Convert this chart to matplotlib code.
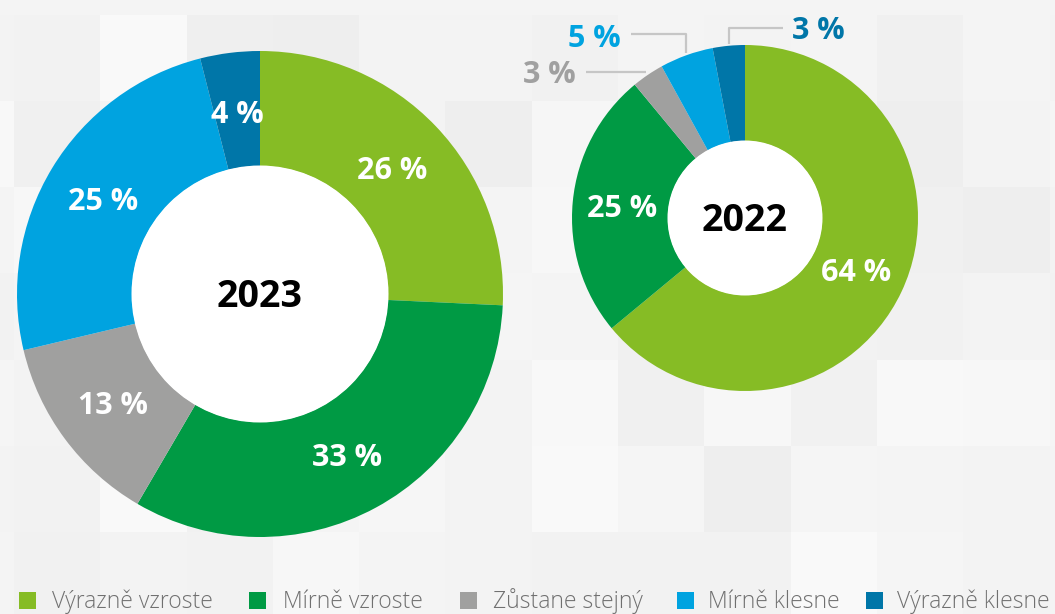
import matplotlib
matplotlib.use('Agg')
import matplotlib.pyplot as plt
from matplotlib.patches import Rectangle, Circle
import numpy as np

# ---------------- data ----------------
categories = ['Výrazně vzroste', 'Mírně vzroste', 'Zůstane stejný', 'Mírně klesne', 'Výrazně klesne']
values_2023 = [26, 33, 13, 25, 4]
values_2022 = [64, 25, 3, 5, 3]
year_labels = ['2023', '2022']
colors = ['#86BC25', '#009A44', '#A0A09F', '#00A3E0', '#0076A8']

# background checker shades (decoration)
bg_shades = [
    [0xf3, 0xf2, 0xf9, 0xef, 0xee, 0xf3, 0xf3, 0xf1, 0xf4, 0xf3, 0xf4, 0xf0, 0xf4, 0xf3],
    [0xf8, 0xf0, 0xf4, 0xf6, 0xf0, 0xf3, 0xee, 0xf6, 0xf2, 0xf2, 0xf4, 0xee, 0xf3, 0xf5],
    [0xf4, 0xf7, 0xf2, 0xf6, 0xf3, 0xf0, 0xf4, 0xf7, 0xef, 0xf2, 0xf3, 0xf0, 0xee, 0xf3],
    [0xf2, 0xf4, 0xf0, 0xf4, 0xf6, 0xf2, 0xf5, 0xf4, 0xf0, 0xf3, 0xf2, 0xf1, 0xf3, 0xf2],
    [0xf5, 0xf3, 0xf8, 0xf3, 0xf0, 0xf4, 0xf3, 0xf8, 0xf0, 0xf7, 0xf1, 0xf8, 0xf7, 0xf5],
    [0xf3, 0xf2, 0xf9, 0xf1, 0xf4, 0xf6, 0xf3, 0xf9, 0xf5, 0xee, 0xf5, 0xf4, 0xf3, 0xf4],
    [0xf4, 0xf1, 0xf3, 0xf2, 0xf7, 0xf4, 0xf3, 0xf2, 0xf2, 0xf2, 0xf9, 0xf5, 0xf3, 0xf4],
]

W, H = 1055, 614
plt.rcParams['font.family'] = ['Open Sans', 'DejaVu Sans']

fig = plt.figure(figsize=(W / 100, H / 100), dpi=100)
fig.patch.set_facecolor('#f4f4f4')
ax = fig.add_axes([0, 0, 1, 1])

# background squares
cell = 86.3
x0, y0 = 14 - cell, 15
ax.add_patch(Rectangle((0, H - 15), W, 15, facecolor='#f4f4f4', edgecolor='none', zorder=0))
for j, row in enumerate(bg_shades):
    for k, s in enumerate(row):
        c = '#%02x%02x%02x' % (s, s, s)
        ax.add_patch(Rectangle((x0 + k * cell, H - (y0 + (j + 1) * cell)), cell + 0.5, cell + 0.5,
                               facecolor=c, edgecolor='none', zorder=0))

PT = 100 / 72.0  # pixels per point
CAP = 0.714


def ctext(x, y_mpl, s, size, color, weight='bold'):
    """Centered text, vertically centered on cap height."""
    ax.text(x, y_mpl - CAP * size * PT / 2, s, ha='center', va='baseline', fontsize=size,
            color=color, fontweight=weight, zorder=5)


def donut(values, center, r_out, r_in, year):
    wedges, _ = ax.pie(values, colors=colors, startangle=90, counterclock=False,
                       center=center, radius=r_out, frame=True,
                       wedgeprops=dict(width=r_out - r_in, linewidth=0, zorder=2))
    ax.add_patch(Circle(center, r_in + 0.5, facecolor='white', edgecolor='none', zorder=3))
    ctext(center[0], center[1], year, 27, 'black')
    mids = [np.deg2rad((w.theta1 + w.theta2) / 2) for w in wedges]
    return wedges, mids


# 2023 donut
c23 = (260, H - 294)
r23o, r23i = 243, 128
w23, m23 = donut(values_2023, c23, r23o, r23i, year_labels[0])
rm = 183
for v, a in zip(values_2023, m23):
    ctext(c23[0] + rm * np.cos(a), c23[1] + rm * np.sin(a), f'{v} %', 22, 'white')

# 2022 donut
c22 = (745, H - 218)
r22o, r22i = 173, 77
w22, m22 = donut(values_2022, c22, r22o, r22i, year_labels[1])
rm = 123
for v, a in zip(values_2022[:2], m22[:2]):
    ctext(c22[0] + rm * np.cos(a), c22[1] + rm * np.sin(a), f'{v} %', 22, 'white')

# outside labels with leader lines
lc = '#c6c6c6'
ra = r22o + 3
# grey (Zůstane stejný)
a = m22[2]
px, py = c22[0] + ra * np.cos(a), c22[1] + ra * np.sin(a)
ax.plot([px, 586], [py, py], color=lc, lw=1.6, zorder=4, solid_capstyle='butt')
ctext(549, py, f'{values_2022[2]} %', 22, '#a0a0a0')
# light blue (Mírně klesne)
a = m22[3]
px, py = c22[0] + r22o * np.cos(a), c22[1] + r22o * np.sin(a)
ax.plot([px, px, 631], [py + 2, H - 34, H - 34], color=lc, lw=1.6, zorder=4, solid_capstyle='butt')
ctext(594, H - 36, f'{values_2022[3]} %', 22, colors[3])
# dark blue (Výrazně klesne)
a = m22[4]
px, py = c22[0] + r22o * np.cos(a), c22[1] + r22o * np.sin(a)
ax.plot([px, px, 783], [py + 2, H - 28, H - 28], color=lc, lw=1.6, zorder=4, solid_capstyle='butt')
ctext(818, H - 28.5, f'{values_2022[4]} %', 22, colors[4])

# legend
sq_x = [19, 249, 460, 677, 866]
tx_x = [52, 283, 493, 708, 897]
ly = H - 600
for c, lab, sx, tx in zip(colors, categories, sq_x, tx_x):
    ax.add_patch(Rectangle((sx, ly - 8.5), 17, 17, facecolor=c, edgecolor='none', zorder=5))
    ax.text(tx, ly - 8.5, lab, ha='left', va='baseline', fontsize=16.5, color='#707070',
            fontweight='light', zorder=5)

ax.set_xlim(0, W)
ax.set_ylim(0, H)
ax.set_aspect('auto')
ax.axis('off')

fig.savefig('out.png', dpi=100, facecolor=fig.get_facecolor())
